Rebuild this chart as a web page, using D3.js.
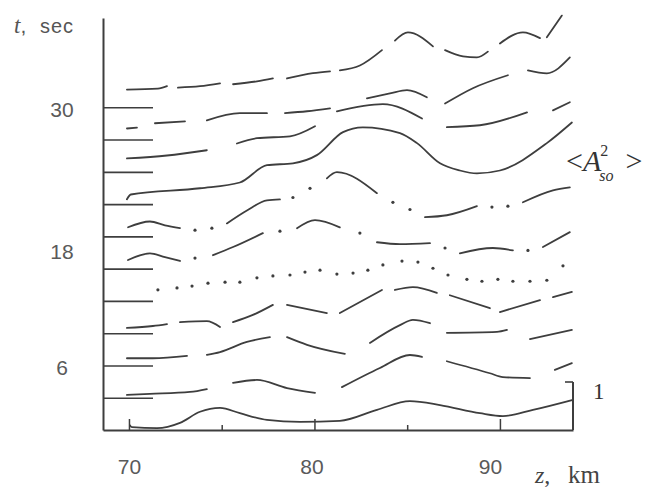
<!DOCTYPE html>
<html>
<head>
<meta charset="utf-8">
<script src="https://cdn.jsdelivr.net/npm/d3@7"></script>
<style>
  html, body { margin: 0; padding: 0; background: #ffffff; }
  svg { display: block; }
</style>
</head>
<body>
<svg id="chart" width="659" height="488"></svg>
<script>
// ---------------- data ----------------
const zDomain = [68.6, 93.94];           // km, extent of the z axis
const tDomain = [0, 38.3];               // sec, extent of the t axis
const xTickValues = [70, 80, 90];
const xMinorTicks = [75, 85];
const yTickValues = [6, 18, 30];
const baselineTimes = [3, 6, 9, 12, 15, 18, 21, 24, 27, 30];
const traceTimes = [0, 3, 6, 9, 12, 15, 18, 21, 24, 27, 30];
const scaleBarValue = 1;

// each trace: list of pen-down pieces, each piece a list of [z (km), <A^2> (units)]
// a one-point piece is a dot
const trace_t0 = [
  [[70.05,0.10],[70.16,0.06],[71.51,0.04],[72.75,0.15],[73.83,0.38],[74.91,0.46],[75.98,0.35],
   [77.44,0.21],[79.22,0.17],[81.37,0.19],[83.37,0.42],[85.15,0.60],[86.77,0.52],[88.92,0.35],
   [90.16,0.29],[91.78,0.42],[93.94,0.63]]
];
const trace_t3 = [
  [[69.89,0.06],[71.13,0.08],[73.29,0.12],[74.20,0.18]],
  [[75.61,0.31],[76.90,0.37],[78.52,0.20],[80.03,0.10]],
  [[81.48,0.22],[83.53,0.62],[85.15,0.89],[85.80,0.85]],
  [[87.14,0.76],[89.46,0.51],[90.16,0.43],[91.62,0.41]],
  [[92.96,0.58],[93.88,0.72]]
];
const trace_t6 = [
  [[69.89,0.15],[71.29,0.15],[73.13,0.20]],
  [[74.20,0.22],[74.91,0.28],[76.36,0.49],[77.60,0.59]],
  [[78.52,0.59],[79.60,0.43],[81.64,0.24]],
  [[82.99,0.47],[84.61,0.84],[85.31,0.95],[86.23,0.88]],
  [[87.14,0.68],[89.84,0.70],[90.38,0.74]],
  [[91.62,0.55],[93.88,0.74]]
];
const trace_t9 = [
  [[69.89,0.11],[71.29,0.15],[72.05,0.19]],
  [[72.75,0.23],[74.20,0.25],[74.91,0.13]],
  [[75.61,0.23],[76.68,0.38],[77.76,0.59]],
  [[78.52,0.59],[80.67,0.42]],
  [[81.37,0.42],[83.64,0.90]],
  [[84.34,0.90],[85.31,0.96],[86.60,0.84]],
  [[87.30,0.79],[89.46,0.52]],
  [[90.00,0.44],[92.16,0.69]],
  [[92.86,0.75],[93.88,0.86]]
];
const trace_t12 = [
  [[71.56,0.23]],[[72.59,0.27]],[[73.40,0.31]],[[74.26,0.37]],[[75.18,0.39]],[[75.98,0.39]],
  [[76.90,0.48]],[[77.76,0.52]],[[78.68,0.54]],[[79.49,0.60]],[[80.30,0.64]],[[81.21,0.56]],
  [[82.08,0.58]],[[82.88,0.64]],[[83.69,0.75]],[[84.72,0.83]],[[85.58,0.81]],[[86.39,0.68]],
  [[87.20,0.54]],[[88.22,0.45]],[[89.03,0.41]],[[89.89,0.45]],[[90.70,0.41]],[[91.62,0.41]],
  [[92.53,0.43]],[[93.40,0.73]]
];
const trace_t15 = [
  [[69.95,0.18],[71.13,0.32],[71.94,0.24],[72.75,0.16]],
  [[73.56,0.22]],
  [[74.53,0.28],[75.61,0.45],[77.22,0.74]],
  [[78.14,0.78]],
  [[79.06,0.84],[80.03,1.01],[81.37,0.86]],
  [[82.45,0.74]],
  [[83.37,0.55],[84.61,0.51],[86.23,0.53]],
  [[87.04,0.43]],
  [[87.84,0.32],[89.62,0.43],[90.70,0.38]],
  [[91.51,0.38]],
  [[92.32,0.45],[93.77,0.76]]
];
const trace_t18 = [
  [[69.95,0.19],[71.13,0.31],[71.94,0.23],[72.75,0.17]],
  [[73.56,0.13]],[[74.47,0.17]],
  [[75.28,0.27],[76.36,0.54],[77.44,0.75],[78.14,0.77]],
  [[78.84,0.81]],[[79.76,1.00]],
  [[80.67,1.21],[81.21,1.34],[83.37,0.90]],
  [[84.23,0.71]],[[85.15,0.56]],
  [[85.96,0.40],[87.14,0.44],[88.76,0.63]],
  [[89.57,0.61]],[[90.43,0.63]],
  [[91.24,0.71],[92.86,0.96],[93.77,1.02]]
];
const trace_t21 = [
  [[69.89,0.10],[70.10,0.20],[73.83,0.33],[75.98,0.45],[77.44,0.81],[78.84,0.85],[80.13,1.02],
   [81.54,1.50],[82.61,1.60],[84.61,1.48],[85.53,1.27],[86.77,0.85],[87.84,0.70],[88.76,0.64],
   [90.00,0.70],[92.53,1.27],[93.88,1.70]]
];
const trace_t24 = [
  [[69.89,0.28],[72.05,0.34],[74.20,0.45]],
  [[75.82,0.59],[76.90,0.70],[78.68,0.74],[80.03,0.95]],
  [[81.21,1.26],[83.69,1.41],[85.80,1.11]],
  [[87.14,0.93],[88.92,0.97],[91.46,1.24]],
  [[92.86,1.28],[93.77,1.45]]
];
const trace_t27 = [
  [[69.89,0.23],[70.43,0.25]],
  [[71.40,0.34],[73.02,0.38]],
  [[74.20,0.40],[75.98,0.55],[77.44,0.55]],
  [[78.41,0.55],[79.60,0.59],[80.84,0.65]],
  [[82.83,0.86],[84.07,0.96],[84.99,1.03],[86.06,0.88]],
  [[87.04,0.75],[88.54,1.07],[90.43,1.34]],
  [[91.51,1.44],[92.53,1.38],[93.77,1.71]]
];
const trace_t30 = [
  [[69.89,0.37],[71.56,0.39],[72.05,0.44]],
  [[72.64,0.41],[73.83,0.44],[74.91,0.50]],
  [[75.61,0.48],[76.90,0.54],[77.76,0.60]],
  [[78.52,0.60],[79.92,0.71],[80.84,0.75]],
  [[81.37,0.77],[82.45,0.87],[83.64,1.19]],
  [[84.34,1.39],[85.04,1.56],[86.39,1.27]],
  [[87.04,1.19],[88.01,1.06],[88.76,1.04],[89.35,1.16]],
  [[90.00,1.33],[91.24,1.56],[92.16,1.44]],
  [[92.53,1.46],[93.34,1.91]]
];
const traces = [trace_t0, trace_t3, trace_t6, trace_t9, trace_t12, trace_t15,
                trace_t18, trace_t21, trace_t24, trace_t27, trace_t30];

// ---------------- drawing ----------------
const svg = d3.select("#chart");
const ink = "#3e3e3e";
const x = d3.scaleLinear().domain(zDomain).range([103, 573]);
const y = d3.scaleLinear().domain(tDomain).range([430, 18]);
const amp = d3.scaleLinear().domain([0, 1]).range([0, 48]);   // px per unit of <A^2>

// baseline marks (one per trace level)
svg.append("g")
  .attr("transform", `translate(${x(zDomain[0])},0)`)
  .call(d3.axisRight(y).tickValues(baselineTimes).tickSize(50).tickFormat(""))
  .call(g => g.select(".domain").remove())
  .call(g => g.selectAll("line").attr("stroke", ink).attr("stroke-width", 1.6));

// y axis
svg.append("g")
  .attr("transform", `translate(${x(zDomain[0])},0)`)
  .call(d3.axisLeft(y).tickValues(yTickValues).tickSizeInner(0).tickSizeOuter(0).tickFormat(d3.format("d")))
  .call(g => g.select(".domain").attr("stroke", ink).attr("stroke-width", 2))
  .call(g => g.selectAll("text")
      .attr("x", -41).attr("text-anchor", "middle")
      .attr("dy", d => d === 18 ? "1.05em" : "0.42em")
      .attr("font-family", "Liberation Sans, Arial, sans-serif")
      .attr("font-size", 21).attr("fill", "#5a5a5a"));

// x axis
svg.append("g")
  .attr("transform", `translate(0,${y(0)})`)
  .call(d3.axisBottom(x).tickValues(xTickValues).tickSizeInner(-11).tickSizeOuter(0)
        .tickPadding(29).tickFormat(d3.format("d")))
  .call(g => g.select(".domain").attr("stroke", ink).attr("stroke-width", 2))
  .call(g => g.selectAll("line").attr("stroke", ink).attr("stroke-width", 1.5))
  .call(g => g.selectAll("text")
      .attr("dx", d => d === 90 ? -10 : (d === 80 ? -3 : 0))
      .attr("font-family", "Liberation Sans, Arial, sans-serif")
      .attr("font-size", 21).attr("fill", "#5a5a5a"));
svg.append("g")
  .attr("transform", `translate(0,${y(0)})`)
  .call(d3.axisBottom(x).tickValues(xMinorTicks).tickSizeInner(-5).tickSizeOuter(0).tickFormat(""))
  .call(g => g.select(".domain").remove())
  .call(g => g.selectAll("line").attr("stroke", ink).attr("stroke-width", 1.5));

// traces
const line = d3.line()
  .x(d => x(d[0]))
  .y(d => d.base - amp(d[1]))
  .curve(d3.curveMonotoneX);

traces.forEach((trace, i) => {
  const t = traceTimes[i];
  const g = svg.append("g").attr("class", "trace");
  trace.forEach(piece => {
    const pts = piece.map(p => Object.assign([p[0], p[1]], { base: y(t) }));
    if (pts.length > 1) {
      g.append("path").attr("d", line(pts))
        .attr("fill", "none").attr("stroke", ink).attr("stroke-width", 1.8)
        .attr("stroke-linejoin", "round").attr("stroke-linecap", "round");
    } else {
      g.append("circle").attr("cx", x(pts[0][0])).attr("cy", pts[0].base - amp(pts[0][1]))
        .attr("r", 1.6).attr("fill", ink);
    }
  });
});

// scale bar "1"
const barX = x(zDomain[1]);
svg.append("line").attr("x1", barX).attr("x2", barX)
  .attr("y1", y(0)).attr("y2", y(0) - amp(scaleBarValue))
  .attr("stroke", ink).attr("stroke-width", 2);
svg.append("line").attr("x1", barX - 8).attr("x2", barX)
  .attr("y1", y(0) - amp(scaleBarValue)).attr("y2", y(0) - amp(scaleBarValue))
  .attr("stroke", ink).attr("stroke-width", 1.6);
svg.append("text").attr("x", barX + 20).attr("y", y(0) - amp(scaleBarValue) + 17)
  .attr("font-family", "Liberation Serif, Times New Roman, serif").attr("font-size", 23)
  .attr("fill", "#333").text("1");

// axis titles
const tTitle = svg.append("text").attr("x", 14).attr("y", 33).attr("fill", "#555");
tTitle.append("tspan").attr("font-family", "Liberation Serif, serif").attr("font-style", "italic")
  .attr("font-size", 23).text("t");
tTitle.append("tspan").attr("font-family", "Liberation Sans, sans-serif").attr("font-size", 21).text(",");
tTitle.append("tspan").attr("x", 40).attr("font-family", "Liberation Sans, sans-serif")
  .attr("font-size", 20).attr("letter-spacing", 1).text("sec");

const zTitle = svg.append("text").attr("x", 535).attr("y", 483).attr("fill", "#444");
zTitle.append("tspan").attr("font-family", "Liberation Serif, serif").attr("font-style", "italic")
  .attr("font-size", 24).text("z");
zTitle.append("tspan").attr("font-family", "Liberation Serif, serif").attr("font-size", 24).text(",");
zTitle.append("tspan").attr("x", 568).attr("font-family", "Liberation Serif, serif").attr("font-size", 25).text("km");

// <A^2_so> label
const aLab = svg.append("text").attr("x", 566).attr("y", 171)
  .attr("font-family", "Liberation Serif, Times New Roman, serif").attr("font-size", 30).attr("fill", "#333");
aLab.append("tspan").text("<");
aLab.append("tspan").attr("font-style", "italic").text("A");
aLab.append("tspan").attr("font-size", 16).attr("dy", -15).attr("dx", -1).text("2");
aLab.append("tspan").attr("font-size", 16).attr("font-style", "italic").attr("dy", 25).attr("dx", -9).text("so");
aLab.append("tspan").attr("dy", -10).attr("dx", 12).text(">");
</script>
</body>
</html>
